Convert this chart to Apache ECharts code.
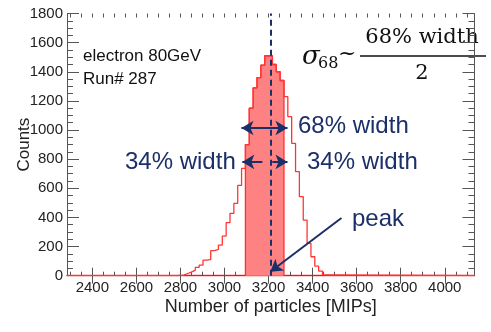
<!DOCTYPE html>
<html><head><meta charset="utf-8">
<script src="https://cdn.jsdelivr.net/npm/echarts@6/dist/echarts.min.js"></script>
<style>html,body{margin:0;padding:0;background:#fff}#c{width:491px;height:332px}</style>
</head><body><div id="c"></div>
<script>
// ---- data ----
const binEdges = [2780, 2797.5, 2815, 2832.5, 2850, 2867.5, 2885, 2902.5, 2920, 2937.5,
  2955, 2972.5, 2990, 3007.5, 3025, 3042.5, 3060, 3077.5, 3095, 3112.5,
  3130, 3147.5, 3165, 3182.5, 3200, 3217.5, 3235, 3252.5, 3270, 3287.5,
  3305, 3322.5, 3340, 3357.5, 3375, 3392.5, 3410, 3427.5, 3445, 3462.5];
const binCounts = [2, 4, 15, 25, 38, 57, 73, 107, 110, 172,
  180, 210, 272, 364, 428, 497, 620, 737, 900, 1150,
  1290, 1360, 1445, 1510, 1510, 1450, 1400, 1340, 1229, 1092,
  909, 714, 543, 382, 222, 130, 66, 32, 5];
const shadedRange = [3095, 3270];
const peakValue = 3208;
const xRange = [2285, 4135];
const yRange = [0, 1800];
const xMajorTicks = [2400, 2600, 2800, 3000, 3200, 3400, 3600, 3800, 4000];
const yInterval = 200;

// annotation arrows (data coordinates)
const arrow68 = [[3077, 1014], [3286, 1014]];
const arrow34Left = [[3172, 781], [3081, 781]];
const arrow34Right = [[3217, 781], [3286, 781]];
const arrowPeak = [[3531, 396], [3208, 27]];

// ---- build ----
function stepData(edges, counts, i0, i1) {
  const d = [[edges[i0], 0]];
  for (let i = i0; i < i1; i++) d.push([edges[i], counts[i]]);
  d.push([edges[i1], 0]);
  return d;
}
const outline = [[xRange[0], 0]].concat(stepData(binEdges, binCounts, 0, binCounts.length), [[xRange[1], 0]]);
const sStart = binEdges.indexOf(shadedRange[0]);
const sEnd = binEdges.indexOf(shadedRange[1]);
const shaded = stepData(binEdges, binCounts, sStart, sEnd);

const xMinorTicks = [];
for (let v = 2300; v <= 4100; v += 50) xMinorTicks.push(v);

const FONT = 'Liberation Sans, Arial, sans-serif';
const NAVY = '#1b2f68';
const FRAME = '#555';
const gridBox = {left: 67, right: 16.5, top: 13.5, bottom: 56.3, containLabel: false, outerBoundsMode: 'none'};
const plain = v => String(v);

function xAx(grid, pos, ticks, len, opts) {
  return Object.assign({
    type: 'value', gridIndex: grid, position: pos, min: xRange[0], max: xRange[1],
    axisLine: {show: true, lineStyle: {color: FRAME, width: 1}},
    axisTick: {show: true, inside: true, length: len, customValues: ticks, lineStyle: {color: FRAME}},
    axisLabel: {show: false},
    splitLine: {show: false}
  }, opts || {});
}

const chart = echarts.init(document.getElementById('c'));
chart.setOption({
  animation: false,
  backgroundColor: '#fff',
  grid: [Object.assign({}, gridBox), Object.assign({}, gridBox)],
  xAxis: [
    xAx(0, 'bottom', xMajorTicks, 8, {
      axisLine: {show: true, lineStyle: {color: '#ff4040', width: 1.3}},
      axisLabel: {show: true, customValues: xMajorTicks, formatter: plain, margin: 5, color: '#222', fontSize: 15, fontFamily: FONT},
      name: 'Number of particles [MIPs]', nameLocation: 'middle', nameGap: 22, nameMoveOverlap: false,
      nameTextStyle: {fontSize: 18, color: '#222', fontFamily: FONT}
    }),
    xAx(0, 'top', xMajorTicks, 8),
    xAx(1, 'bottom', xMinorTicks, 4, {axisLine: {show: false}}),
    xAx(1, 'top', xMinorTicks, 4, {axisLine: {show: false}})
  ],
  yAxis: [
    {type: 'value', gridIndex: 0, position: 'left', min: yRange[0], max: yRange[1], interval: yInterval,
      axisLine: {show: true, lineStyle: {color: FRAME}},
      axisTick: {show: true, inside: true, length: 12, lineStyle: {color: FRAME}},
      minorTick: {show: true, splitNumber: 4, length: 6, lineStyle: {color: FRAME}},
      axisLabel: {margin: 4, formatter: plain, color: '#222', fontSize: 15, fontFamily: FONT},
      splitLine: {show: false},
      name: 'Counts', nameLocation: 'middle', nameGap: 34, nameRotate: 90, nameMoveOverlap: false,
      nameTextStyle: {fontSize: 17, color: '#222', fontFamily: FONT}},
    {type: 'value', gridIndex: 0, position: 'right', min: yRange[0], max: yRange[1], interval: yInterval,
      axisLine: {show: true, lineStyle: {color: FRAME}},
      axisTick: {show: true, inside: true, length: 12, lineStyle: {color: FRAME}},
      minorTick: {show: true, splitNumber: 4, length: 6, lineStyle: {color: FRAME}},
      axisLabel: {show: false}, splitLine: {show: false}},
    {type: 'value', gridIndex: 1, show: false, min: yRange[0], max: yRange[1]}
  ],
  series: [
    {type: 'line', xAxisIndex: 0, yAxisIndex: 0, step: 'end', data: shaded, showSymbol: false, silent: true,
      lineStyle: {color: '#ff3030', width: 1.3}, areaStyle: {color: '#ff8282', opacity: 1}, z: 2},
    {type: 'line', xAxisIndex: 0, yAxisIndex: 0, step: 'end', data: outline, showSymbol: false, silent: true,
      lineStyle: {color: '#ff3535', width: 1.3}, z: 3},
    {type: 'line', xAxisIndex: 0, yAxisIndex: 0, data: [], silent: true, z: 4,
      markLine: {silent: true, symbol: 'none', label: {show: false},
        lineStyle: {color: NAVY, width: 2, type: [6, 4]},
        data: [{xAxis: peakValue}]}},
    {type: 'line', xAxisIndex: 0, yAxisIndex: 0, data: [], silent: true, z: 5,
      markLine: {silent: true, symbol: ['arrow', 'arrow'], symbolSize: [11, 12], label: {show: false},
        lineStyle: {color: NAVY, width: 2, type: 'solid'},
        data: [
          [{coord: arrow68[0]}, {coord: arrow68[1]}],
          [{coord: arrow34Left[0], symbol: 'none'}, {coord: arrow34Left[1]}],
          [{coord: arrow34Right[0], symbol: 'none'}, {coord: arrow34Right[1]}],
          [{coord: arrowPeak[0], symbol: 'none'}, {coord: arrowPeak[1]}]
        ]}}
  ],
  graphic: [
    {type: 'text', x: 83, y: 56, style: {text: 'electron 80GeV', font: '17px ' + FONT, fill: '#111', verticalAlign: 'middle'}},
    {type: 'text', x: 83, y: 79, style: {text: 'Run# 287', font: '17px ' + FONT, fill: '#111', verticalAlign: 'middle'}},
    {type: 'text', x: 125, y: 162, style: {text: '34% width', font: '24px ' + FONT, fill: NAVY, verticalAlign: 'middle'}},
    {type: 'text', x: 307, y: 162, style: {text: '34% width', font: '24px ' + FONT, fill: NAVY, verticalAlign: 'middle'}},
    {type: 'text', x: 298, y: 126, style: {text: '68% width', font: '24px ' + FONT, fill: NAVY, verticalAlign: 'middle'}},
    {type: 'text', x: 352, y: 219, style: {text: 'peak', font: '24px ' + FONT, fill: NAVY, verticalAlign: 'middle'}},
    {type: 'text', x: 302, y: 57, style: {text: 'σ', font: 'italic 26px DejaVu Serif, serif', fill: '#111', verticalAlign: 'middle'}},
    {type: 'text', x: 318, y: 64, style: {text: '68', font: '16px DejaVu Serif, serif', fill: '#111', verticalAlign: 'middle'}},
    {type: 'text', x: 338, y: 54, style: {text: '~', font: '22px DejaVu Serif, serif', fill: '#111', verticalAlign: 'middle'}},
    {type: 'line', shape: {x1: 360, y1: 56, x2: 486, y2: 56}, style: {stroke: '#111', lineWidth: 1.5}},
    {type: 'text', x: 422, y: 38, style: {text: '68% width', font: '21px DejaVu Serif, serif', fill: '#111', align: 'center', verticalAlign: 'middle'}},
    {type: 'text', x: 422, y: 74, style: {text: '2', font: '21px DejaVu Serif, serif', fill: '#111', align: 'center', verticalAlign: 'middle'}}
  ]
});
</script>
</body></html>
